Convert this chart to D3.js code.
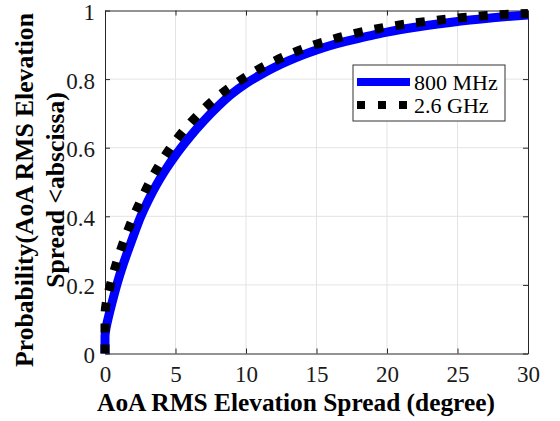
<!DOCTYPE html>
<html>
<head>
<meta charset="utf-8">
<script src="https://cdn.jsdelivr.net/npm/d3@7"></script>
</head>
<body style="margin:0;background:#fff">
<svg id="chart" width="560" height="421" font-family="Liberation Serif" style="display:block"></svg>
<script>
// ---- data ----
const seriesNames = ["800 MHz", "2.6 GHz"];
const spread800 = [0, 0, 0.1, 0.25, 0.55, 0.87, 1.25, 1.65, 2.05, 2.53, 3.1, 3.67, 4.3, 5, 5.44, 6, 7, 8, 9, 10, 11, 12, 13, 14, 15, 16, 17, 18, 19, 20, 22, 25, 27.5, 30];
const prob800   = [0, 0.05, 0.08, 0.107, 0.156, 0.205, 0.255, 0.302, 0.347, 0.399, 0.449, 0.493, 0.536, 0.578, 0.602, 0.631, 0.678, 0.72, 0.757, 0.787, 0.812, 0.834, 0.853, 0.87, 0.885, 0.898, 0.909, 0.919, 0.928, 0.937, 0.951, 0.968, 0.979, 0.987];
const spread26  = [0, 0, 0.12, 0.35, 0.71, 1.18, 1.65, 2.25, 2.79, 3.38, 4.2, 4.85, 5.9, 6.86, 7.97, 9.22, 10.4, 11.7, 12.9, 14.5, 15.9, 17.3, 18.7, 20.3, 21.8, 23.2, 24.7, 26.1, 27.7, 30];
const prob26    = [0, 0.11, 0.155, 0.195, 0.25, 0.31, 0.362, 0.42, 0.468, 0.516, 0.573, 0.612, 0.665, 0.707, 0.748, 0.786, 0.817, 0.846, 0.869, 0.895, 0.913, 0.929, 0.942, 0.954, 0.963, 0.97, 0.977, 0.982, 0.987, 0.991];
const xTicks = [0, 5, 10, 15, 20, 25, 30];
const yTicks = [0, 0.2, 0.4, 0.6, 0.8, 1];
const xLabel = "AoA RMS Elevation Spread (degree)";
const yLabelLines = ["Probability(AoA RMS Elevation", "Spread <abscissa)"];

// ---- layout ----
const FONT = "Liberation Serif";
const svg = d3.select("#chart");
const L = 105, R = 528, T = 10.5, B = 353.5;
const x = d3.scaleLinear().domain([0, 30]).range([L, R]);
const y = d3.scaleLinear().domain([0, 1]).range([B, T]);
const axisColor = "#262626";
function serif(sel) {
  return sel.attr("font-family", FONT).style("font-family", FONT);
}

// grid
const g = svg.append("g");
g.selectAll("line.gx").data(xTicks.slice(1, -1)).enter().append("line")
  .attr("x1", d => x(d)).attr("x2", d => x(d)).attr("y1", T).attr("y2", B)
  .attr("stroke", "#e3e3e3").attr("stroke-width", 1);
g.selectAll("line.gy").data(yTicks.slice(1, -1)).enter().append("line")
  .attr("y1", d => y(d)).attr("y2", d => y(d)).attr("x1", L).attr("x2", R)
  .attr("stroke", "#e3e3e3").attr("stroke-width", 1);

// axes (ticks inside)
const fs = 23;
const xAxis = svg.append("g").attr("transform", `translate(0,${B})`)
  .call(d3.axisBottom(x).tickValues(xTicks).tickFormat(d3.format("d")).tickSizeInner(-5).tickSizeOuter(0).tickPadding(16));
const yAxis = svg.append("g").attr("transform", `translate(${L},0)`)
  .call(d3.axisLeft(y).tickValues(yTicks).tickFormat(d => d === 0 || d === 1 ? String(d) : d.toFixed(1)).tickSizeInner(-5).tickSizeOuter(0).tickPadding(10));
const xTop = svg.append("g").attr("transform", `translate(0,${T})`)
  .call(d3.axisTop(x).tickValues(xTicks).tickFormat("").tickSizeInner(-5).tickSizeOuter(0));
const yRight = svg.append("g").attr("transform", `translate(${R},0)`)
  .call(d3.axisRight(y).tickValues(yTicks).tickFormat("").tickSizeInner(-5).tickSizeOuter(0));
[xAxis, yAxis, xTop, yRight].forEach(a => {
  a.attr("font-family", FONT).attr("font-size", fs);
  a.select(".domain").attr("stroke", axisColor).attr("stroke-width", 1);
  a.selectAll(".tick line").attr("stroke", axisColor);
  serif(a.selectAll(".tick text")).attr("font-size", fs).style("font-size", fs + "px").attr("fill", "#1a1a1a");
});
xAxis.selectAll(".tick text").attr("dy", 12);
yAxis.selectAll(".tick text").attr("dy", 9);

// lines
const line = d3.line().x(d => x(d[0])).y(d => y(d[1])).curve(d3.curveMonotoneY);
const d800 = spread800.map((v, i) => [v, prob800[i]]);
const d26 = spread26.map((v, i) => [v, prob26[i]]);
svg.append("path").datum(d800).attr("d", line)
  .attr("fill", "none").attr("stroke", "#0000ff").attr("stroke-width", 9);
svg.append("path").datum(d26).attr("d", line)
  .attr("fill", "none").attr("stroke", "#000").attr("stroke-width", 9)
  .attr("stroke-dasharray", "9,12");

// legend
const lg = svg.append("g");
lg.append("rect").attr("x", 353).attr("y", 65).attr("width", 152).attr("height", 56)
  .attr("fill", "#fff").attr("stroke", "#333").attr("stroke-width", 1);
const legendItems = [
  { name: seriesNames[0], color: "#0000ff", dash: null, yy: 82 },
  { name: seriesNames[1], color: "#000", dash: "8,13", yy: 105 }
];
legendItems.forEach(it => {
  const ln = lg.append("line").attr("x1", 357).attr("x2", 410).attr("y1", it.yy).attr("y2", it.yy)
    .attr("stroke", it.color).attr("stroke-width", 8);
  if (it.dash) ln.attr("stroke-dasharray", it.dash);
  serif(lg.append("text")).attr("x", 414).attr("y", it.yy + 7.5)
    .attr("font-size", 22).style("font-size", "22px").text(it.name);
});

// axis titles
function fitText(sel, target, base) {
  sel.attr("font-size", base).style("font-size", base + "px");
  const w = sel.node().getComputedTextLength();
  const f = base * target / w;
  sel.attr("font-size", f).style("font-size", f + "px");
  return f;
}
const xt = serif(svg.append("text")).attr("x", 296).attr("y", 411).attr("text-anchor", "middle")
  .attr("font-weight", "bold").style("font-weight", "bold").text(xLabel);
fitText(xt, 398, 25);
const yt = svg.append("g").attr("transform", "translate(0,190) rotate(-90)");
const y1 = serif(yt.append("text")).attr("x", 0).attr("y", 33).attr("text-anchor", "middle")
  .attr("font-weight", "bold").style("font-weight", "bold").text(yLabelLines[0]);
const yf = fitText(y1, 354, 25);
serif(yt.append("text")).attr("x", 0).attr("y", 64).attr("text-anchor", "middle")
  .attr("font-weight", "bold").style("font-weight", "bold")
  .attr("font-size", yf).style("font-size", yf + "px").text(yLabelLines[1]);
</script>
</body>
</html>
